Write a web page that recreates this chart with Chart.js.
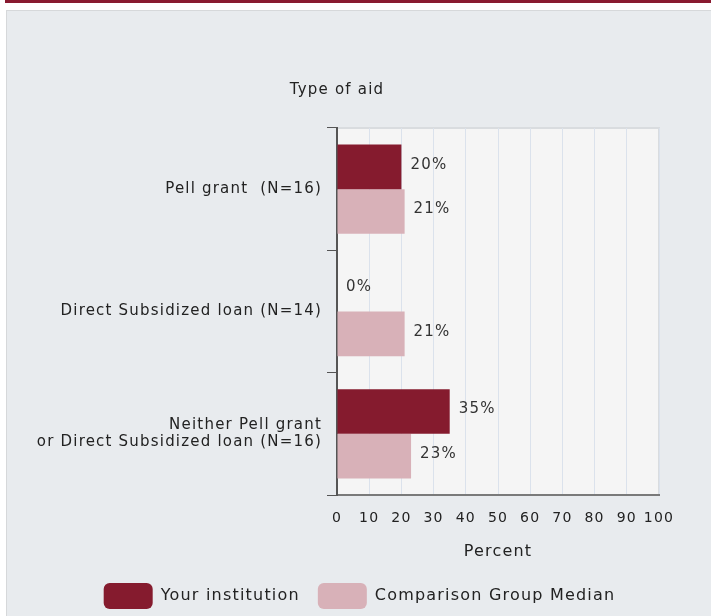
<!DOCTYPE html>
<html>
<head>
<meta charset="utf-8">
<script src="https://cdn.jsdelivr.net/npm/chart.js@4"></script>
<style>
  html,body{margin:0;padding:0;background:#ffffff;width:711px;height:616px;overflow:hidden;}
  #topbar{position:absolute;left:5px;top:0;width:706px;height:3px;background:#891a30;}
  #panel{position:absolute;left:6px;top:10px;width:710px;height:610px;background:#e8ebee;border-top:1px solid #d6d8da;border-left:1px solid #d6d8da;}
  #c{position:absolute;left:0;top:0;}
</style>
</head>
<body>
<div id="topbar"></div>
<div id="panel"></div>
<canvas id="c" width="711" height="616"></canvas>
<script>
const categories = [
  ["Pell grant  (N=16)"],
  ["Direct Subsidized loan (N=14)"],
  ["Neither Pell grant", "or Direct Subsidized loan (N=16)"]
];
const yourInstitution = [20, 0, 35];
const comparisonMedian = [21, 21, 23];
const xTicks = [0, 10, 20, 30, 40, 50, 60, 70, 80, 90, 100];
const seriesNames = ["Your institution", "Comparison Group Median"];
const yTitle = "Type of aid";
const xTitle = "Percent";

const FONT = "'DejaVu Sans', Verdana, sans-serif";
const TEXT = "#222222";
const SPACING = '1.2px';

const letterSpacing = {
  id: 'letterSpacing',
  beforeInit(chart) { chart.ctx.letterSpacing = SPACING; },
  beforeUpdate(chart) { chart.ctx.letterSpacing = SPACING; },
  beforeLayout(chart) { chart.ctx.letterSpacing = SPACING; },
  afterLayout(chart) {
    if (chart.legend) { chart.legend.left += 30; chart.legend.right += 30; }
  },
  beforeDraw(chart) { chart.ctx.letterSpacing = SPACING; }
};

const plotBg = {
  id: 'plotBg',
  beforeDraw(chart) {
    const {ctx, chartArea: a} = chart;
    ctx.save();
    ctx.fillStyle = '#f5f5f5';
    ctx.fillRect(a.left, a.top, a.right - a.left, a.bottom - a.top);
    ctx.strokeStyle = '#d9dcdf';
    ctx.lineWidth = 2;
    ctx.beginPath();
    ctx.moveTo(a.left, a.top);
    ctx.lineTo(a.right, a.top);
    ctx.lineTo(a.right, a.bottom);
    ctx.stroke();
    ctx.restore();
  }
};

const topTitle = {
  id: 'topTitle',
  afterDraw(chart) {
    const {ctx, chartArea: a} = chart;
    ctx.save();
    ctx.font = "15px " + FONT;
    ctx.fillStyle = TEXT;
    ctx.textAlign = 'center';
    ctx.textBaseline = 'middle';
    ctx.fillText(yTitle, a.left, 90);
    ctx.restore();
  }
};

const valueLabels = {
  id: 'valueLabels',
  afterDatasetsDraw(chart) {
    const {ctx} = chart;
    ctx.save();
    ctx.font = "15px " + FONT;
    ctx.fillStyle = '#333333';
    ctx.textAlign = 'left';
    ctx.textBaseline = 'middle';
    chart.data.datasets.forEach((ds, i) => {
      chart.getDatasetMeta(i).data.forEach((bar, j) => {
        ctx.fillText(ds.data[j] + '%', bar.x + 9, bar.y - 2);
      });
    });
    ctx.restore();
  }
};

new Chart(document.getElementById('c'), {
  type: 'bar',
  data: {
    labels: categories,
    datasets: [
      { label: seriesNames[0], data: yourInstitution, backgroundColor: '#851b2e', borderWidth: 0 },
      { label: seriesNames[1], data: comparisonMedian, backgroundColor: '#d8b1b8', borderWidth: 0 }
    ]
  },
  options: {
    indexAxis: 'y',
    responsive: false,
    animation: false,
    devicePixelRatio: 1,
    categoryPercentage: 0.73,
    barPercentage: 1.0,
    layout: { padding: { top: 128, right: 52, left: 0, bottom: -3 } },
    scales: {
      x: {
        type: 'linear',
        min: 0, max: 100,
        afterBuildTicks(scale) { scale.ticks = xTicks.map(v => ({value: v})); },
        afterFit(scale) { scale.height = 70; },
        grid: { color: '#dbe2ec', drawTicks: false, lineWidth: 1 },
        border: { display: true, color: '#7a7a7a', width: 2 },
        ticks: { color: TEXT, font: { size: 14, family: FONT }, padding: 15, maxRotation: 0, minRotation: 0, autoSkip: false },
        title: { display: true, text: xTitle, color: TEXT, font: { size: 16, family: FONT }, padding: { top: 10 } }
      },
      y: {
        afterFit(scale) { scale.width = 337; },
        grid: { drawOnChartArea: false, offset: true, tickLength: 10, color: '#555555', lineWidth: 1 },
        border: { display: true, color: '#555555', width: 2 },
        ticks: { color: TEXT, font: { size: 15, family: FONT, lineHeight: 1.15 }, padding: 5 }
      }
    },
    plugins: {
      legend: {
        position: 'bottom',
        labels: {
          boxWidth: 49, boxHeight: 26, useBorderRadius: true, borderRadius: 6,
          color: TEXT, font: { size: 16, family: FONT }, padding: 18
        }
      },
      tooltip: { enabled: false },
      title: { display: false }
    }
  },
  plugins: [letterSpacing, plotBg, topTitle, valueLabels]
});
</script>
</body>
</html>
